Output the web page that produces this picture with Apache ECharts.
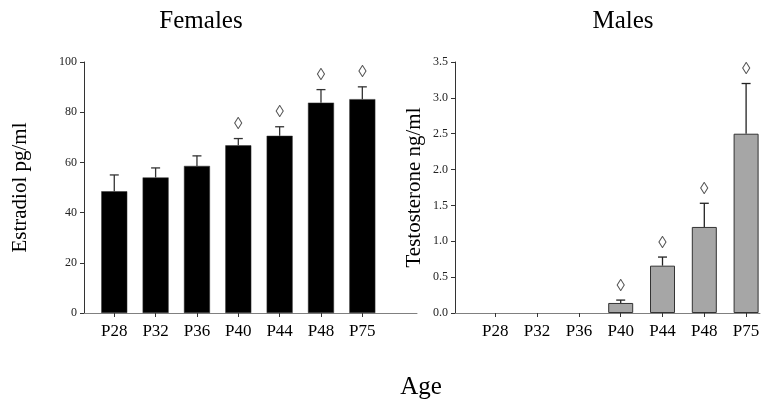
<!DOCTYPE html>
<html>
<head>
<meta charset="utf-8">
<script src="https://cdn.jsdelivr.net/npm/echarts@6/dist/echarts.min.js"></script>
<style>html,body{margin:0;padding:0;background:#fff}#c{width:767px;height:409px}</style>
</head>
<body>
<div id="c"></div>
<script>
var categories = ['P28','P32','P36','P40','P44','P48','P75'];
var femaleMean = [48.5, 54.0, 58.6, 66.8, 70.6, 83.8, 85.2];
var femaleErrTop = [55.0, 57.8, 62.6, 69.5, 74.2, 89.0, 90.1];
var femaleSig = [0, 0, 0, 1, 1, 1, 1];
var maleMean = [0, 0, 0, 0.14, 0.66, 1.20, 2.50];
var maleErrTop = [null, null, null, 0.18, 0.78, 1.53, 3.20];
var maleSig = [0, 0, 0, 1, 1, 1, 1];
var femaleTicks = [0, 20, 40, 60, 80, 100];
var maleTicks = [0, 0.5, 1.0, 1.5, 2.0, 2.5, 3.0, 3.5];

var FONT = '"Liberation Serif", "Times New Roman", serif';

function errData(mean, top, sig) {
  return mean.map(function (m, i) { return [i, m, top[i], sig[i]]; })
             .filter(function (d) { return d[2] != null; });
}
function errRender(color) {
  return function (params, api) {
    var x = api.value(0);
    var p0 = api.coord([x, api.value(1)]);
    var p1 = api.coord([x, api.value(2)]);
    var hw = 4.5;
    var children = [
      { type: 'line', shape: { x1: p0[0], y1: p0[1], x2: p1[0], y2: p1[1] }, style: { stroke: color, lineWidth: 1.3 } },
      { type: 'line', shape: { x1: p1[0] - hw, y1: p1[1], x2: p1[0] + hw, y2: p1[1] }, style: { stroke: color, lineWidth: 1.3 } }
    ];
    if (api.value(3)) {
      children.push({ type: 'text', style: { text: '\u25CA', x: p1[0], y: p1[1] - 14, align: 'center', verticalAlign: 'middle', fontSize: 17, fontFamily: FONT, fill: '#555' } });
    }
    return { type: 'group', children: children };
  };
}
function barItems(vals) {
  return vals.map(function (v) {
    return v > 0 ? { value: v } : { value: v, itemStyle: { borderWidth: 0, opacity: 0 } };
  });
}

var chart = echarts.init(document.getElementById('c'), null, { renderer: 'canvas' });
var lineX = { type: 'value', min: 0, max: 1, axisLine: { show: true, lineStyle: { color: '#808080', width: 1 } }, axisTick: { show: false }, axisLabel: { show: false }, splitLine: { show: false } };
function catX(gi) {
  return { type: 'category', gridIndex: gi, data: categories, boundaryGap: true,
    axisLine: { show: false }, axisTick: { show: true, alignWithLabel: true, length: 4, lineStyle: { color: '#333' } },
    axisLabel: { color: '#000', fontFamily: FONT, fontSize: 17, margin: 10 }, splitLine: { show: false } };
}
function valY(gi, max, interval, ticks, name, show, dec, nameGap) {
  return { type: 'value', gridIndex: gi, min: 0, max: max, interval: interval,
    show: show,
    name: show ? name : '', nameLocation: 'middle', nameGap: nameGap, nameRotate: 90,
    nameTextStyle: { color: '#000', fontFamily: FONT, fontSize: 21 },
    axisLine: { show: show, lineStyle: { color: '#333' } },
    axisTick: { show: show, inside: false, length: 4, lineStyle: { color: '#333' } },
    axisLabel: { show: show, color: '#222', fontFamily: FONT, fontSize: 12, margin: 7,
      formatter: function (v) { return dec ? v.toFixed(1) : String(v); } },
    splitLine: { show: false } };
}

chart.setOption({
  animation: false,
  title: [
    { text: 'Females', left: 196, top: 4, textAlign: 'center', textStyle: { fontFamily: FONT, fontSize: 25, fontWeight: 'normal', color: '#000' } },
    { text: 'Males', left: 618, top: 4, textAlign: 'center', textStyle: { fontFamily: FONT, fontSize: 25, fontWeight: 'normal', color: '#000' } },
    { text: 'Age', left: 416, top: 370, textAlign: 'center', textStyle: { fontFamily: FONT, fontSize: 25, fontWeight: 'normal', color: '#000' } }
  ],
  grid: [
    { left: 84, right: 350, top: 62, bottom: 96 },
    { left: 93.6, right: 384, top: 62, bottom: 96 },
    { left: 455, right: 7, top: 62, bottom: 96 },
    { left: 474.4, right: 0, top: 62, bottom: 96 }
  ],
  xAxis: [
    Object.assign({ gridIndex: 0 }, lineX),
    catX(1),
    Object.assign({ gridIndex: 2 }, lineX),
    catX(3)
  ],
  yAxis: [
    valY(0, 100, 20, femaleTicks, 'Estradiol pg/ml', true, false, 53),
    valY(1, 100, 20, femaleTicks, '', false, false, 0),
    valY(2, 3.5, 0.5, maleTicks, 'Testosterone ng/ml', true, true, 30),
    valY(3, 3.5, 0.5, maleTicks, '', false, true, 0)
  ],
  series: [
    { type: 'bar', xAxisIndex: 1, yAxisIndex: 1, data: barItems(femaleMean), barWidth: 26,
      itemStyle: { color: '#000', borderColor: '#333', borderWidth: 0.5 } },
    { type: 'custom', xAxisIndex: 1, yAxisIndex: 1, data: errData(femaleMean, femaleErrTop, femaleSig),
      encode: { x: 0, y: [1, 2] }, renderItem: errRender('#333'), z: 1 },
    { type: 'bar', xAxisIndex: 3, yAxisIndex: 3, data: barItems(maleMean), barWidth: 25,
      itemStyle: { color: '#a6a6a6', borderColor: '#333', borderWidth: 1 } },
    { type: 'custom', xAxisIndex: 3, yAxisIndex: 3, data: errData(maleMean, maleErrTop, maleSig),
      encode: { x: 0, y: [1, 2] }, renderItem: errRender('#222'), z: 1 }
  ]
});
</script>
</body>
</html>
